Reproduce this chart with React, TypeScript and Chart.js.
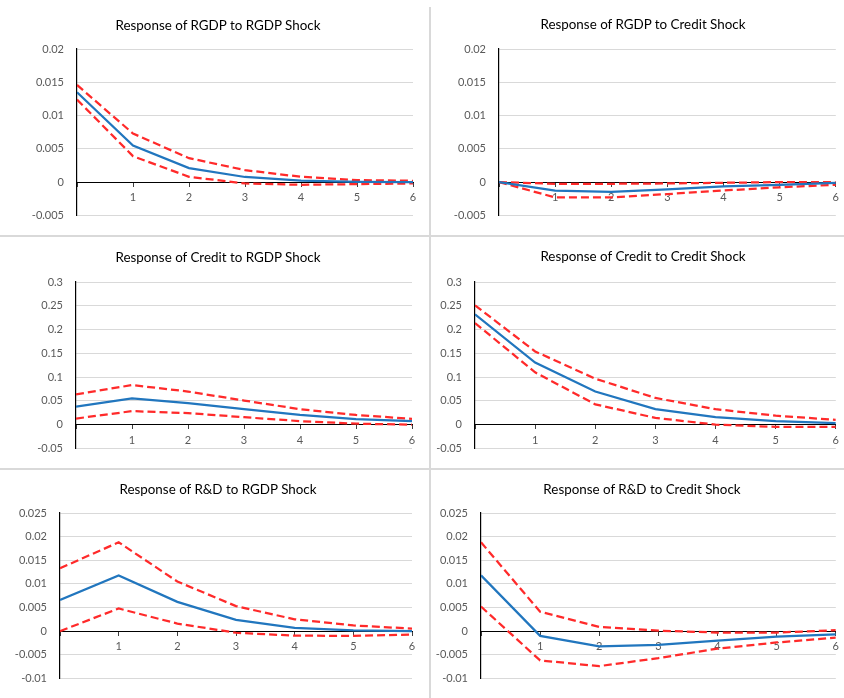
import React, { useEffect, useRef } from "react";
import { Chart, registerables } from "chart.js";

Chart.register(...registerables);

// ---------- data ----------
const periods = [0, 1, 2, 3, 4, 5, 6];
const xTickLabels = ["", "1", "2", "3", "4", "5", "6"];

const rgdpTicks = [-0.005, 0, 0.005, 0.01, 0.015, 0.02];
const creditTicks = [-0.05, 0, 0.05, 0.1, 0.15, 0.2, 0.25, 0.3];
const rdTicks = [-0.01, -0.005, 0, 0.005, 0.01, 0.015, 0.02, 0.025];

const titles = [
  "Response of RGDP to RGDP Shock",
  "Response of RGDP to Credit Shock",
  "Response of Credit to RGDP Shock",
  "Response of Credit to Credit Shock",
  "Response of R&D to RGDP Shock",
  "Response of R&D to Credit Shock",
];

const rgdpRgdpIrf = [0.0135, 0.0055, 0.0021, 0.00077, 0.00023, 0.00005, 0];
const rgdpRgdpUpper = [0.0146, 0.0073, 0.0036, 0.0018, 0.0008, 0.0003, 0.0002];
const rgdpRgdpLower = [0.0124, 0.0039, 0.0008, -0.0002, -0.0004, -0.0003, -0.0002];

const rgdpCreditIrf = [0, -0.00126, -0.00145, -0.0011, -0.00063, -0.0004, -0.0001];
const rgdpCreditUpper = [0, -0.00025, -0.00025, -0.0002, -0.0001, 0, 0];
const rgdpCreditLower = [0, -0.0023, -0.0023, -0.0018, -0.00126, -0.00078, -0.0004];

const creditRgdpIrf = [0.038, 0.055, 0.045, 0.0325, 0.0203, 0.0115, 0.0074];
const creditRgdpUpper = [0.0636, 0.0832, 0.0696, 0.0507, 0.0325, 0.0203, 0.0122];
const creditRgdpLower = [0.0128, 0.0284, 0.0243, 0.0156, 0.0074, 0.002, 0];

const creditCreditIrf = [0.232, 0.1305, 0.0696, 0.0325, 0.0156, 0.0074, 0.0034];
const creditCreditUpper = [0.251, 0.154, 0.0967, 0.0561, 0.0325, 0.0189, 0.0101];
const creditCreditLower = [0.2137, 0.11, 0.0426, 0.0142, 0, -0.0047, -0.0047];

const rdRgdpIrf = [0.0066, 0.0118, 0.0062, 0.0024, 0.0007, 0.00014, 0];
const rdRgdpUpper = [0.0133, 0.0188, 0.0105, 0.0053, 0.0025, 0.0012, 0.00054];
const rdRgdpLower = [0, 0.0048, 0.0016, -0.00034, -0.00095, -0.001, -0.00074];

const rdCreditIrf = [0.0118, -0.001, -0.0032, -0.0029, -0.002, -0.00115, -0.00068];
const rdCreditUpper = [0.0188, 0.0041, 0.0009, 0.0001, -0.0003, -0.0003, 0.0002];
const rdCreditLower = [0.0052, -0.0062, -0.0074, -0.0057, -0.0037, -0.0024, -0.00135];

// ---------- styles / layout ----------
const BLUE = "#2176BE";
const RED = "#FF2A2A";
const TICK_COLOR = "#595959";
const GRID_COLOR = "#d9d9d9";
const FONT_FAMILY = "Lato, 'Open Sans', sans-serif";

type PanelCfg = {
  title: string;
  irf: number[];
  upper: number[];
  lower: number[];
  yTicks: number[];
  box: { left: number; top: number; w: number; h: number };
  plot: { left: number; top: number; right: number; bottom: number };
  titleCx: number;
  titleCy: number;
};

const panels: PanelCfg[] = [
  {
    title: titles[0], irf: rgdpRgdpIrf, upper: rgdpRgdpUpper, lower: rgdpRgdpLower, yTicks: rgdpTicks,
    box: { left: 0, top: 0, w: 428, h: 235 },
    plot: { left: 77, top: 49, right: 413, bottom: 222 },
    titleCx: 218, titleCy: 25,
  },
  {
    title: titles[1], irf: rgdpCreditIrf, upper: rgdpCreditUpper, lower: rgdpCreditLower, yTicks: rgdpTicks,
    box: { left: 431, top: 0, w: 413, h: 235 },
    plot: { left: 499, top: 49, right: 839, bottom: 222 },
    titleCx: 643, titleCy: 24,
  },
  {
    title: titles[2], irf: creditRgdpIrf, upper: creditRgdpUpper, lower: creditRgdpLower, yTicks: creditTicks,
    box: { left: 0, top: 238, w: 428, h: 230 },
    plot: { left: 76, top: 282, right: 412, bottom: 454 },
    titleCx: 218, titleCy: 257,
  },
  {
    title: titles[3], irf: creditCreditIrf, upper: creditCreditUpper, lower: creditCreditLower, yTicks: creditTicks,
    box: { left: 431, top: 238, w: 413, h: 230 },
    plot: { left: 475, top: 282, right: 839, bottom: 454 },
    titleCx: 643, titleCy: 256,
  },
  {
    title: titles[4], irf: rdRgdpIrf, upper: rdRgdpUpper, lower: rdRgdpLower, yTicks: rdTicks,
    box: { left: 0, top: 471, w: 428, h: 227 },
    plot: { left: 60, top: 513, right: 412, bottom: 685 },
    titleCx: 218, titleCy: 489,
  },
  {
    title: titles[5], irf: rdCreditIrf, upper: rdCreditUpper, lower: rdCreditLower, yTicks: rdTicks,
    box: { left: 431, top: 471, w: 413, h: 227 },
    plot: { left: 481, top: 513, right: 839, bottom: 685 },
    titleCx: 642, titleCy: 489,
  },
];

const fmt = (v: number) => {
  const r = parseFloat(Number(v).toFixed(4));
  return r === 0 ? "0" : String(r);
};

function Panel({ p }: { p: PanelCfg }) {
  const ref = useRef<HTMLCanvasElement>(null);
  useEffect(() => {
    const toPts = (arr: number[]) => periods.map((x, i) => ({ x, y: arr[i] }));
    const ymin = p.yTicks[0];
    const ymax = p.yTicks[p.yTicks.length - 1];
    const xmin = periods[0];
    const xmax = periods[periods.length - 1];
    const want = {
      left: p.plot.left - p.box.left,
      top: p.plot.top - p.box.top,
      right: p.plot.right - p.box.left,
      bottom: p.plot.bottom - p.box.top,
    };
    const pad = {
      left: 0,
      top: want.top,
      right: p.box.w - want.right,
      bottom: p.box.h - want.bottom,
    };
    const yWidth = want.left;
    const dash = [8, 4];
    const chart = new Chart(ref.current as HTMLCanvasElement, {
      type: "line",
      data: {
        datasets: [
          { data: toPts(p.irf), borderColor: BLUE, borderWidth: 2.25, pointRadius: 0, tension: 0, fill: false },
          { data: toPts(p.upper), borderColor: RED, borderWidth: 2.25, borderDash: dash, pointRadius: 0, tension: 0, fill: false },
          { data: toPts(p.lower), borderColor: RED, borderWidth: 2.25, borderDash: dash, pointRadius: 0, tension: 0, fill: false },
        ],
      },
      options: {
        animation: false,
        responsive: false,
        maintainAspectRatio: false,
        events: [],
        layout: { padding: pad },
        plugins: {
          legend: { display: false },
          tooltip: { enabled: false },
          title: { display: false },
        },
        scales: {
          x: {
            type: "linear",
            min: xmin,
            max: xmax,
            position: { y: 0 },
            afterBuildTicks: (s: any) => {
              s.ticks = periods.map((v) => ({ value: v }));
            },
            ticks: {
              autoSkip: false,
              maxRotation: 0,
              padding: 5,
              color: TICK_COLOR,
              font: { family: FONT_FAMILY, size: 11 },
              callback: (_v: any, i: number) => xTickLabels[i],
            },
            grid: { drawOnChartArea: false, drawTicks: true, tickLength: 4, color: "#404040" },
            border: { color: "#000", width: 1 },
          },
          y: {
            type: "linear",
            min: ymin,
            max: ymax,
            afterBuildTicks: (s: any) => {
              s.ticks = p.yTicks.map((v) => ({ value: v }));
            },
            afterFit: (s: any) => {
              s.width = yWidth;
            },
            ticks: {
              padding: 13,
              color: TICK_COLOR,
              font: { family: FONT_FAMILY, size: 11 },
              callback: (v: any) => fmt(v),
            },
            grid: {
              drawTicks: false,
              color: (ctx: any) => (ctx.tick && ctx.tick.value === 0 ? "#000" : GRID_COLOR),
              lineWidth: 1,
            },
            border: { color: "#000", width: 1.2 },
          },
        },
      },
    } as any);
    return () => chart.destroy();
  }, []);
  return (
    <>
      <canvas
        ref={ref}
        width={p.box.w}
        height={p.box.h}
        style={{ position: "absolute", left: p.box.left, top: p.box.top, width: p.box.w, height: p.box.h }}
      />
      <div
        style={{
          position: "absolute",
          left: p.titleCx - 160,
          width: 320,
          top: p.titleCy - 9,
          height: 18,
          lineHeight: "18px",
          textAlign: "center",
          fontFamily: FONT_FAMILY,
          fontSize: 13.4,
          color: "#000",
          whiteSpace: "nowrap",
        }}
      >
        {p.title}
      </div>
    </>
  );
}

export default function App() {
  return (
    <div
      style={{
        position: "absolute",
        left: 0,
        top: 0,
        width: 844,
        height: 698,
        background: "#fff",
        overflow: "hidden",
      }}
    >
      <div style={{ position: "absolute", left: 429, top: 7, width: 2, height: 691, background: GRID_COLOR }} />
      <div style={{ position: "absolute", left: 0, top: 235, width: 844, height: 2, background: GRID_COLOR }} />
      <div style={{ position: "absolute", left: 0, top: 468, width: 844, height: 2, background: GRID_COLOR }} />
      {panels.map((p, i) => (
        <Panel key={i} p={p} />
      ))}
    </div>
  );
}
